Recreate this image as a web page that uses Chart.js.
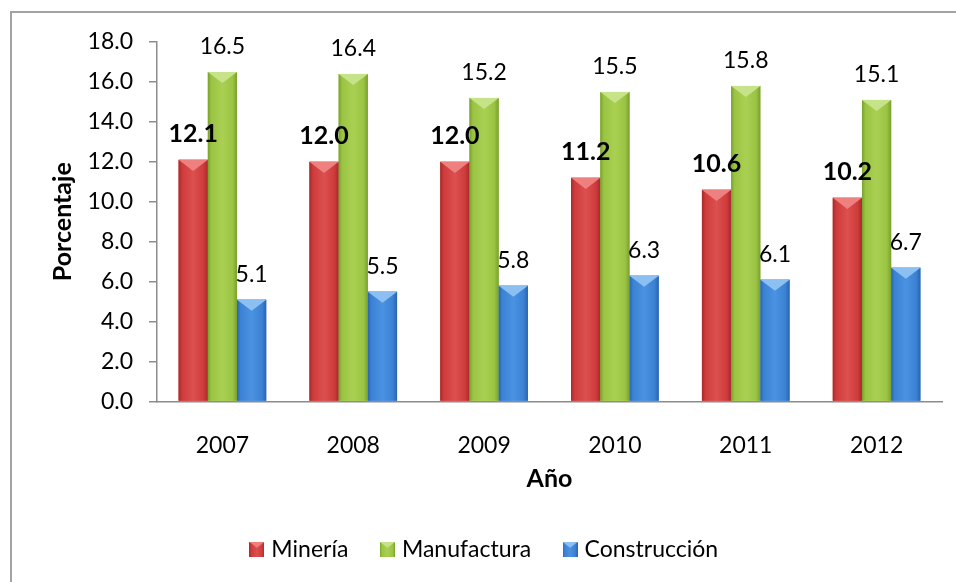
<!DOCTYPE html>
<html>
<head>
<meta charset="utf-8">
<script src="https://cdn.jsdelivr.net/npm/chart.js@4.4.1/dist/chart.umd.min.js"></script>
<style>
  html, body { margin: 0; padding: 0; background: #ffffff; }
  #wrap { position: relative; width: 956px; height: 582px; overflow: hidden; }
  #frame { position: absolute; left: 10px; top: 11px; width: 1000px; height: 700px;
           border-left: 2px solid #a3a3a3; border-top: 2px solid #a3a3a3; pointer-events: none; }
  canvas { position: absolute; left: 0; top: 0; }
</style>
</head>
<body>
<div id="wrap">
  <canvas id="chart" width="956" height="582"></canvas>
  <div id="frame"></div>
</div>
<script>
// Participación por sector (porcentaje)
const years = ['2007', '2008', '2009', '2010', '2011', '2012'];
const mineria = [12.1, 12.0, 12.0, 11.2, 10.6, 10.2];
const manufactura = [16.5, 16.4, 15.2, 15.5, 15.8, 15.1];
const construccion = [5.1, 5.5, 5.8, 6.3, 6.1, 6.7];
const seriesNames = ['Minería', 'Manufactura', 'Construcción'];
const yTicks = [0, 2, 4, 6, 8, 10, 12, 14, 16, 18];

const FONT = 'Lato, "Open Sans", "DejaVu Sans", sans-serif';

// shading for each series: dark edge, body, highlight, cap
const palettes = [
  { edge: '#a52a2a', body: '#cf3b3b', light: '#dc5050', cap: '#ee8080' },
  { edge: '#78a02e', body: '#9bc443', light: '#a9d052', cap: '#c6e38a' },
  { edge: '#2a64ae', body: '#3c82d4', light: '#4a92e2', cap: '#8cc0f2' }
];

function bevelFill(ctx, l, top, w, h, pal) {
  const r = l + w;
  const g = ctx.createLinearGradient(l, 0, r, 0);
  g.addColorStop(0, pal.edge);
  g.addColorStop(0.12, pal.body);
  g.addColorStop(0.5, pal.light);
  g.addColorStop(0.85, pal.body);
  g.addColorStop(1, pal.edge);
  ctx.fillStyle = g;
  ctx.fillRect(l, top, w, h);
  const d = Math.min(w * 0.38, h);
  ctx.fillStyle = pal.cap;
  ctx.beginPath();
  ctx.moveTo(l, top);
  ctx.lineTo(r, top);
  ctx.lineTo(l + w / 2, top + d);
  ctx.closePath();
  ctx.fill();
}

// small shaded squares for the legend
function legendSwatch(pal) {
  const c = document.createElement('canvas');
  c.width = 15; c.height = 15;
  bevelFill(c.getContext('2d'), 0, 0, 15, 15, pal);
  return c;
}

const barLook = {
  id: 'barLook',
  afterDatasetsDraw(chart) {
    const ctx = chart.ctx;
    ctx.save();
    chart.data.datasets.forEach((ds, di) => {
      const meta = chart.getDatasetMeta(di);
      meta.data.forEach(bar => {
        const p = bar.getProps(['x', 'y', 'base', 'width'], true);
        bevelFill(ctx, p.x - p.width / 2, p.y, p.width, p.base - p.y, palettes[di]);
      });
    });
    // value labels above each bar
    chart.data.datasets.forEach((ds, di) => {
      const meta = chart.getDatasetMeta(di);
      ctx.font = di === 0 ? 'bold 25px ' + FONT : '23px ' + FONT;
      ctx.fillStyle = '#000000';
      ctx.textAlign = 'center';
      ctx.textBaseline = 'alphabetic';
      meta.data.forEach((bar, i) => {
        const p = bar.getProps(['x', 'y'], true);
        ctx.fillText(ds.data[i].toFixed(1), p.x, p.y - 18);
      });
    });
    ctx.restore();
  }
};

const values = [mineria, manufactura, construccion];

new Chart(document.getElementById('chart'), {
  type: 'bar',
  data: {
    labels: years,
    datasets: seriesNames.map((name, i) => ({
      label: name,
      data: values[i],
      backgroundColor: palettes[i].body,
      borderWidth: 0,
      pointStyle: legendSwatch(palettes[i]),
      categoryPercentage: 0.67,
      barPercentage: 1.0
    }))
  },
  options: {
    responsive: false,
    animation: false,
    layout: { padding: { left: 30, right: 14, top: 42, bottom: 11 } },
    plugins: {
      tooltip: { enabled: false },
      legend: {
        position: 'bottom',
        labels: {
          usePointStyle: true,
          boxWidth: 6,
          boxHeight: 15,
          padding: 36,
          color: '#000000',
          font: { family: FONT, size: 23 }
        }
      }
    },
    scales: {
      x: {
        grid: { display: false },
        border: { display: true, color: '#8c8c8c', width: 1.5 },
        ticks: { color: '#000000', padding: 22, font: { family: FONT, size: 23 } },
        title: {
          display: true, text: 'Año', color: '#000000',
          font: { family: FONT, size: 25, weight: 'bold' },
          padding: { top: 0, bottom: 8 }
        },
        afterFit(scale) { scale.height = 100.5; }
      },
      y: {
        min: 0,
        max: 18,
        afterBuildTicks(scale) { scale.ticks = yTicks.map(v => ({ value: v })); },
        grid: { display: true, drawOnChartArea: false, drawTicks: true, tickLength: 8, color: '#8c8c8c', lineWidth: 1.5 },
        border: { display: true, color: '#8c8c8c', width: 1.5 },
        ticks: {
          color: '#000000', padding: 16,
          font: { family: FONT, size: 23 },
          callback: v => Number(v).toFixed(1)
        },
        title: {
          display: true, text: 'Porcentaje', color: '#000000',
          font: { family: FONT, size: 25, weight: 'bold' },
          padding: { top: 18, bottom: 0 }
        },
        afterFit(scale) { scale.width = 127; }
      }
    }
  },
  plugins: [barLook]
});
</script>
</body>
</html>
